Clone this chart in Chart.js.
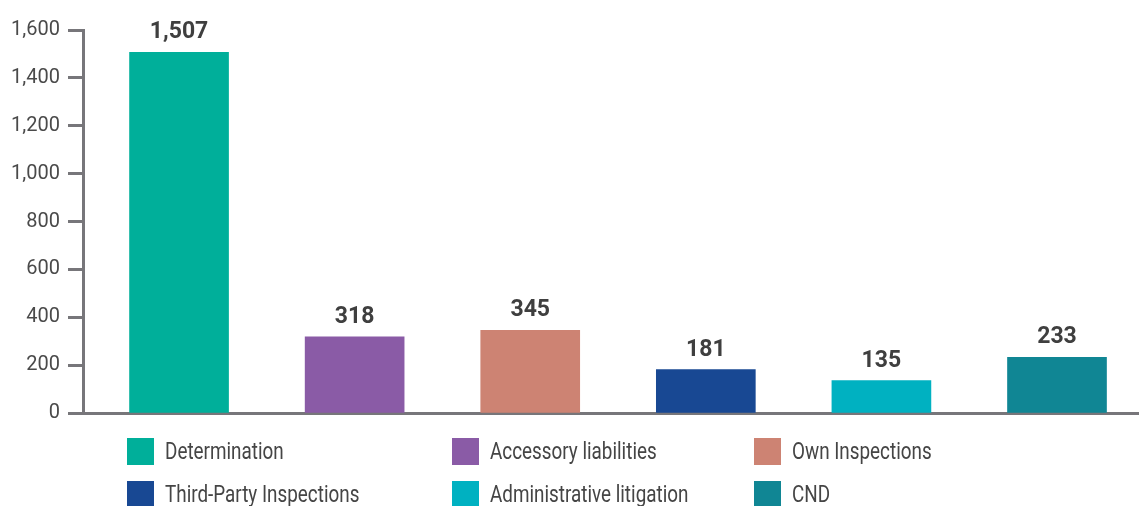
<!DOCTYPE html>
<html>
<head>
<meta charset="utf-8">
<script src="https://cdn.jsdelivr.net/npm/chart.js@4"></script>
<style>
  html, body { margin: 0; padding: 0; background: #ffffff; }
  #wrap { position: relative; width: 1139px; height: 506px; overflow: hidden; }
  #chart { position: absolute; left: 0; top: 0; }
  .legend-item { position: absolute; height: 27px; display: flex; align-items: center; white-space: nowrap;
    font-family: "Roboto", sans-serif; font-size: 23px; color: #454545; }
  .legend-box { width: 27px; height: 27px; margin-right: 11px; flex: none; }
  .legend-text { display: inline-block; transform: scaleX(0.82); transform-origin: left center; }
</style>
</head>
<body>
<div id="wrap">
  <canvas id="chart" width="1139" height="506"></canvas>
  <div id="legend"></div>
</div>
<script>
// Case counts by activity type
const categories = ["Determination", "Accessory liabilities", "Own Inspections",
                    "Third-Party Inspections", "Administrative litigation", "CND"];
const values = [1507, 318, 345, 181, 135, 233];
const colors = ["#00af9a", "#8a5ba6", "#cd8373", "#184893", "#00b1c1", "#108694"];
const yTicks = [0, 200, 400, 600, 800, 1000, 1200, 1400, 1600];

// Legend grid: three columns, two rows
const legendCols = [127, 452, 754];
const legendRows = [438, 481];

const axisColor = "#77767a";
const textColor = "#4a4a4a";
const fmt = v => v.toLocaleString("en-US");

const valueLabels = {
  id: "valueLabels",
  afterDatasetsDraw(chart) {
    const ctx = chart.ctx;
    const meta = chart.getDatasetMeta(0);
    ctx.save();
    ctx.font = "bold 23px Roboto, sans-serif";
    ctx.fillStyle = "#3f3f3f";
    ctx.textAlign = "center";
    ctx.textBaseline = "alphabetic";
    meta.data.forEach((bar, i) => {
      ctx.fillText(fmt(values[i]), bar.x, bar.y - 14);
    });
    ctx.restore();
  }
};

const chart = new Chart(document.getElementById("chart"), {
  type: "bar",
  data: {
    datasets: [{
      data: values.map((v, i) => ({ x: i, y: v })),
      backgroundColor: colors,
      borderWidth: 0,
      barThickness: 99
    }]
  },
  options: {
    responsive: false,
    animation: false,
    layout: { padding: { top: 30, right: 0, bottom: 93, left: 0 } },
    plugins: { legend: { display: false }, tooltip: { enabled: false } },
    scales: {
      x: {
        type: "linear",
        offset: false,
        min: -0.547,
        max: 5.467,
        ticks: { display: false },
        grid: { display: false, drawTicks: false, offset: false },
        border: { display: true, color: axisColor, width: 3 },
        afterFit(scale) { scale.height = 0; }
      },
      y: {
        min: 0,
        max: 1600,
        afterBuildTicks(scale) { scale.ticks = yTicks.map(v => ({ value: v })); },
        afterFit(scale) { scale.width = 83; },
        ticks: {
          padding: 8,
          color: textColor,
          font: { family: "Roboto, sans-serif", size: 20 },
          callback: v => fmt(v)
        },
        grid: { drawOnChartArea: false, drawTicks: true, tickLength: 15, tickWidth: 3, tickColor: axisColor },
        border: { display: true, color: axisColor, width: 3 }
      }
    }
  },
  plugins: [valueLabels]
});

// Legend built from the chart's own categories and colours
const legendEl = document.getElementById("legend");
categories.forEach((name, i) => {
  const item = document.createElement("div");
  item.className = "legend-item";
  item.style.left = legendCols[i % 3] + "px";
  item.style.top = legendRows[Math.floor(i / 3)] + "px";
  const box = document.createElement("span");
  box.className = "legend-box";
  box.style.background = colors[i];
  const label = document.createElement("span");
  label.className = "legend-text";
  label.textContent = name;
  item.appendChild(box);
  item.appendChild(label);
  legendEl.appendChild(item);
});
</script>
</body>
</html>
